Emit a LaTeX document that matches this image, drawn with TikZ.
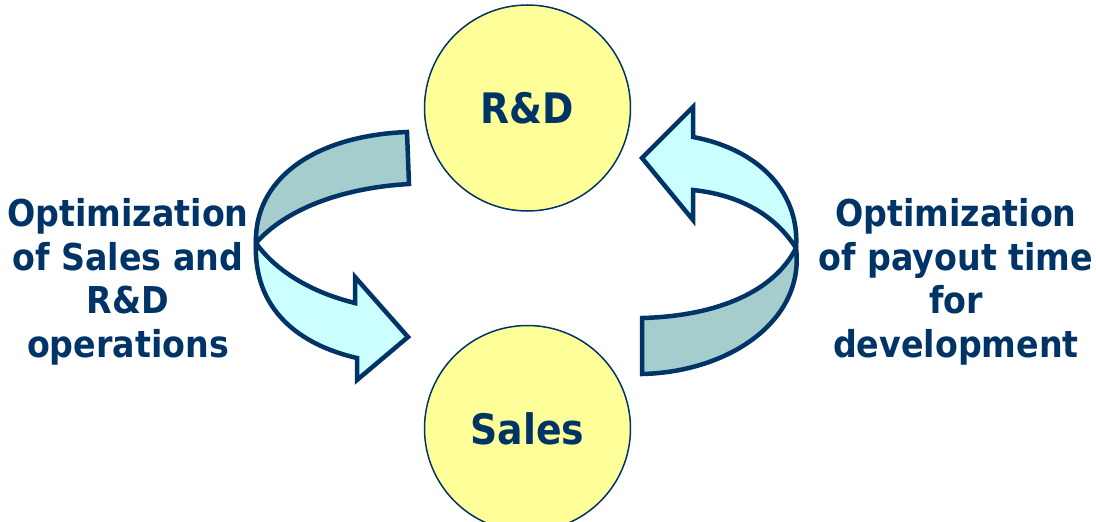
\documentclass[tikz,border=0pt]{standalone}
\usepackage{fontspec}
\setmainfont{DejaVu Sans Condensed}
\definecolor{navy}{HTML}{003366}
\definecolor{circfill}{HTML}{FFFF99}
\definecolor{bandback}{HTML}{A5CDCD}
\definecolor{bandfront}{HTML}{CCFFFF}
\begin{document}
\begin{tikzpicture}[x=1pt,y=-1pt,
  unit/.style={circle, draw=navy, line width=1.5pt, fill=circfill, minimum size=206pt, inner sep=0pt,
    text=navy, font=\fontsize{42}{48}\selectfont\bfseries},
  lbl/.style={align=center, text=navy, inner sep=0pt, anchor=base,
    font=\fontsize{37}{43.5}\selectfont\bfseries},
  band/.style={draw=navy, line width=4.5pt, line join=miter}]
\useasboundingbox (0,0) rectangle (1096,522);
\begin{scope}
\clip (0,0) rectangle (1096,522);
\node[unit] (rd) at (527.5,108) {R\&D};
\node[unit] (sales) at (527.5,428.5) {Sales};
\end{scope}
% left arrow: back band
\filldraw[band, fill=bandback] (407,132) .. controls (310,136) and (254,182) .. (256,243)
  .. controls (285,210) and (340,188) .. (409,184) -- cycle;
% left arrow: front band with head
\filldraw[band, fill=bandfront] (256,243) .. controls (253,310) and (300,345) .. (357,358)
  -- (357,380) -- (408,337) -- (355,277) -- (355,303)
  .. controls (310,292) and (275,270) .. (256,243) -- cycle;
% right arrow: back band
\filldraw[band, fill=bandback] (796,248) .. controls (805,320) and (730,372) .. (642,374)
  -- (642,318) .. controls (720,316) and (775,290) .. (796,248) -- cycle;
% right arrow: front band with head
\filldraw[band, fill=bandfront] (693,137) .. controls (762,150) and (800,195) .. (796,248)
  .. controls (775,215) and (740,195) .. (693,190)
  -- (693,220) -- (642,158) -- (693,107) -- cycle;
\node[lbl] (left) at (128,357) {Optimization\\of Sales and\\R\&D\\operations};
\node[lbl] (right) at (956,357) {Optimization\\of payout time\\for\\development};
\end{tikzpicture}
\end{document}
